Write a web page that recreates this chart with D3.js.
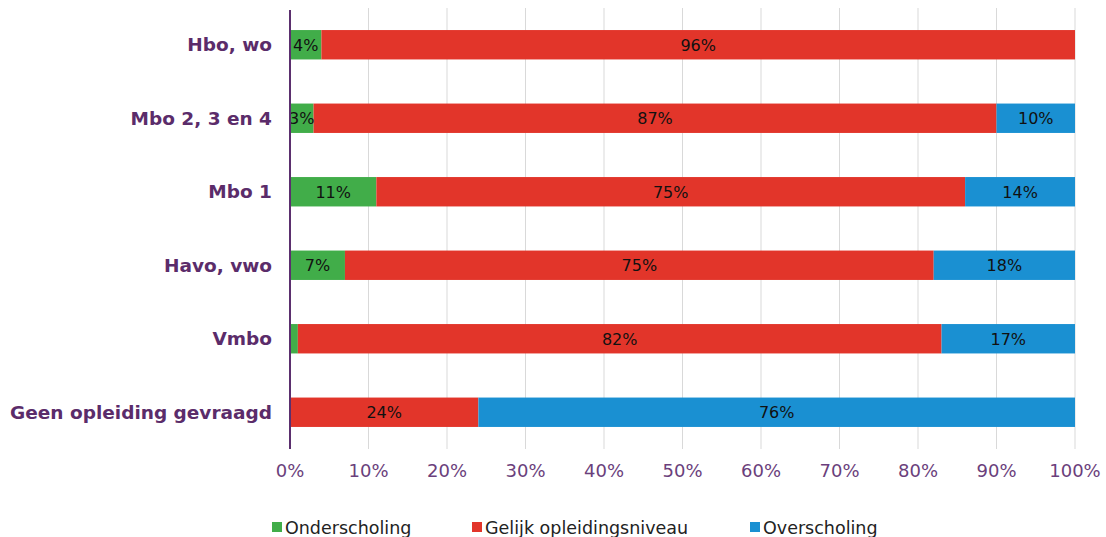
<!DOCTYPE html>
<html>
<head>
<meta charset="utf-8">
<script src="https://cdn.jsdelivr.net/npm/d3@7"></script>
<style>
  body { margin: 0; background: #fff; }
  svg { display: block; }
</style>
</head>
<body>
<svg id="chart" width="1106" height="537"></svg>
<script>
// categories top to bottom
var categories = ["Hbo, wo", "Mbo 2, 3 en 4", "Mbo 1", "Havo, vwo", "Vmbo", "Geen opleiding gevraagd"];
var seriesNames = ["Onderscholing", "Gelijk opleidingsniveau", "Overscholing"];
var onder  = [4, 3, 11, 7, 1, 0];
var gelijk = [96, 87, 75, 75, 82, 24];
var over   = [0, 10, 14, 18, 17, 76];
var ticks  = [0, 10, 20, 30, 40, 50, 60, 70, 80, 90, 100];
var colors = ["#41ad49", "#e2352a", "#1a90d2"];

(function(){
  var svg = d3.select("#chart");
  var mL = 290, mR = 1075, mT = 8, mB = 449;

  var x = d3.scaleLinear().domain([0, 100]).range([mL, mR]);
  var y = d3.scaleBand().domain(categories).range([mT, mB]).paddingInner(0.6).paddingOuter(0.3);

  // grid
  svg.append("g").selectAll("line")
    .data(ticks.slice(1))
    .enter().append("line")
    .attr("x1", function(d){ return x(d); })
    .attr("x2", function(d){ return x(d); })
    .attr("y1", mT).attr("y2", mB)
    .attr("stroke", "#d9d9d9").attr("stroke-width", 1);

  var rows = categories.map(function(c, i){
    return {cat: c, vals: [onder[i], gelijk[i], over[i]]};
  });

  var segs = [];
  rows.forEach(function(r){
    var acc = 0;
    r.vals.forEach(function(v, k){
      segs.push({cat: r.cat, k: k, x0: acc, x1: acc + v, v: v});
      acc += v;
    });
  });

  svg.append("g").selectAll("rect")
    .data(segs.filter(function(s){ return s.v > 0; }))
    .enter().append("rect")
    .attr("x", function(s){ return x(s.x0); })
    .attr("width", function(s){ return x(s.x1) - x(s.x0); })
    .attr("y", function(s){ return y(s.cat); })
    .attr("height", y.bandwidth())
    .attr("fill", function(s){ return colors[s.k]; });

  svg.append("g").selectAll("text")
    .data(segs.filter(function(s){ return s.v >= 3; }))
    .enter().append("text")
    .attr("x", function(s){ return x((s.x0 + s.x1) / 2); })
    .attr("y", function(s){ return y(s.cat) + y.bandwidth() / 2; })
    .attr("dy", "0.36em")
    .attr("text-anchor", "middle")
    .attr("font-family", "DejaVu Sans, Verdana, sans-serif")
    .attr("font-size", 16)
    .attr("fill", "#111")
    .text(function(s){ return s.v + "%"; });

  // axis line
  svg.append("line")
    .attr("x1", mL).attr("x2", mL).attr("y1", mT + 2).attr("y2", mB)
    .attr("stroke", "#5b2f6e").attr("stroke-width", 2);

  // category labels
  svg.append("g").selectAll("text")
    .data(categories)
    .enter().append("text")
    .attr("x", 272)
    .attr("y", function(c){ return y(c) + y.bandwidth() / 2; })
    .attr("dy", "0.36em")
    .attr("text-anchor", "end")
    .attr("font-family", "DejaVu Sans, Verdana, sans-serif")
    .attr("font-weight", "bold")
    .attr("font-size", 18.5)
    .attr("fill", "#5b2c6a")
    .text(function(c){ return c; });

  // x tick labels
  svg.append("g").selectAll("text")
    .data(ticks)
    .enter().append("text")
    .attr("x", function(d){ return x(d); })
    .attr("y", 477)
    .attr("text-anchor", "middle")
    .attr("font-family", "DejaVu Sans, Verdana, sans-serif")
    .attr("font-size", 18)
    .attr("fill", "#6b3f7c")
    .text(function(d){ return d + "%"; });

  // legend
  var legX = [272, 472, 750];
  var leg = svg.append("g").selectAll("g")
    .data(seriesNames)
    .enter().append("g")
    .attr("transform", function(d, i){ return "translate(" + legX[i] + ",0)"; });
  leg.append("rect")
    .attr("x", 0).attr("y", 522).attr("width", 10).attr("height", 10)
    .attr("fill", function(d, i){ return colors[i]; });
  leg.append("text")
    .attr("x", 13).attr("y", 534)
    .attr("font-family", "DejaVu Sans, sans-serif")
    .attr("font-size", 17.5)
    .attr("fill", "#222")
    .text(function(d){ return d; });
})();
</script>
</body>
</html>
